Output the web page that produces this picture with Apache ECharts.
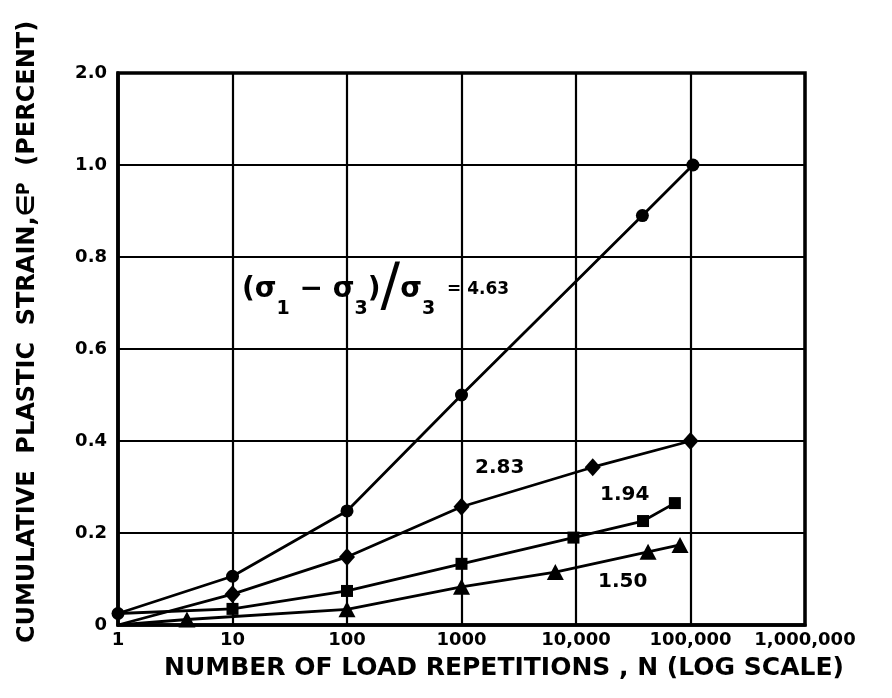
<!DOCTYPE html>
<html><head><meta charset="utf-8">
<script src="https://cdn.jsdelivr.net/npm/echarts@6/dist/echarts.min.js"></script>
<style>html,body{margin:0;padding:0;background:#fff}#c{width:892px;height:698px}</style>
</head><body><div id="c"></div>
<script>
// ---- data ----
const xTickLabels = ['1', '10', '100', '1000', '10,000', '100,000', '1,000,000'];
const yTickLabels = ['0', '0.2', '0.4', '0.6', '0.8', '1.0', '2.0']; // top tick is a broken-axis "2.0"

const nCircle = [1, 10, 100, 1000, 38000, 105000];
const eCircle = [0.025, 0.106, 0.248, 0.50, 0.89, 1.0];

const nDiamond = [1, 10, 100, 1000, 14000, 100000];
const eDiamond = [0, 0.067, 0.148, 0.257, 0.343, 0.40];

const nSquare = [1, 10, 100, 1000, 9500, 38500, 73000];
const eSquare = [0.025, 0.035, 0.074, 0.133, 0.19, 0.226, 0.265];

const nTriangle = [1, 4, 100, 1000, 6600, 42600, 81000];
const eTriangle = [0, 0.012, 0.034, 0.083, 0.115, 0.159, 0.174];

const seriesNames = ['4.63', '2.83', '1.94', '1.50'];

function pts(xs, ys, hideFirst) {
  return xs.map((x, i) => (i === 0 && hideFirst) ? { value: [x, ys[i]], symbol: 'none' } : [x, ys[i]]);
}

const FONT = 'DejaVu Sans';
const chart = echarts.init(document.getElementById('c'), null, { renderer: 'canvas' });
const lineStyle = { color: '#000', width: 2.8 };
const itemStyle = { color: '#000' };

chart.setOption({
  animation: false,
  backgroundColor: '#fff',
  grid: { left: 118, right: 87, top: 73, bottom: 73, show: true, borderColor: '#000', borderWidth: 3.5, backgroundColor: 'transparent' },
  xAxis: {
    type: 'log', logBase: 10, min: 1, max: 1000000,
    axisLine: { show: true, lineStyle: { color: '#000', width: 3.5 } },
    axisTick: { show: false },
    splitLine: { show: true, lineStyle: { color: '#000', width: 2.2 } },
    minorSplitLine: { show: false },
    axisLabel: {
      color: '#000', fontFamily: FONT, fontWeight: 'bold', fontSize: 18, margin: 6,
      formatter: v => xTickLabels[Math.round(Math.log10(v))]
    }
  },
  yAxis: {
    type: 'value', min: 0, max: 1.2, interval: 0.2,
    axisLine: { show: true, lineStyle: { color: '#000', width: 3.5 } },
    axisTick: { show: false },
    splitLine: { show: true, lineStyle: { color: '#000', width: 2.2 } },
    axisLabel: {
      color: '#000', fontFamily: FONT, fontWeight: 'bold', fontSize: 18, margin: 11,
      formatter: v => yTickLabels[Math.round(v / 0.2)]
    }
  },
  series: [
    { name: seriesNames[0], type: 'line', data: pts(nCircle, eCircle, false), symbol: 'circle', symbolSize: 13, lineStyle, itemStyle, z: 5 },
    { name: seriesNames[1], type: 'line', data: pts(nDiamond, eDiamond, true), symbol: 'diamond', symbolSize: [16, 18], lineStyle, itemStyle, z: 5 },
    { name: seriesNames[2], type: 'line', data: pts(nSquare, eSquare, true), symbol: 'rect', symbolSize: 12, lineStyle, itemStyle, z: 5 },
    { name: seriesNames[3], type: 'line', data: pts(nTriangle, eTriangle, true), symbol: 'triangle', symbolSize: [17, 16], lineStyle, itemStyle, z: 5 }
  ],
  graphic: [
    { type: 'text', x: 504, y: 668, style: { text: 'NUMBER OF LOAD REPETITIONS , N (LOG SCALE)', font: 'bold 25px "DejaVu Sans"', fill: '#000', textAlign: 'center', textVerticalAlign: 'middle' } },
    { type: 'text', x: 28, y: 332, rotation: Math.PI / 2,
      style: { text: '{t|CUMULATIVE  PLASTIC  STRAIN,∈}{p|P}{t|  (PERCENT)}', fill: '#000', textAlign: 'center', textVerticalAlign: 'middle',
        rich: { t: { fontFamily: FONT, fontWeight: 'bold', fontSize: 24, fill: '#000', verticalAlign: 'bottom' },
                p: { fontFamily: FONT, fontWeight: 'bold', fontSize: 17, fill: '#000', verticalAlign: 'top' } } } },
    { type: 'text', x: 242, y: 290,
      style: { text: '{a|(σ}{s|1}{a| − σ}{s|3}{a|)}{sl|/}{a|σ}{s|3}{e|  = 4.63}', fill: '#000', textVerticalAlign: 'middle',
        rich: { a: { fontFamily: FONT, fontWeight: 'bold', fontSize: 28, fill: '#000', verticalAlign: 'middle' },
                s: { fontFamily: FONT, fontWeight: 'bold', fontSize: 19, fill: '#000', verticalAlign: 'bottom' },
                sl: { fontFamily: FONT, fontWeight: 'normal', fontSize: 58, fill: '#000', verticalAlign: 'middle' },
                e: { fontFamily: FONT, fontWeight: 'bold', fontSize: 17, fill: '#000', verticalAlign: 'middle' } } } },
    { type: 'text', x: 475, y: 468, style: { text: '2.83', font: 'bold 20px "DejaVu Sans"', fill: '#000', textVerticalAlign: 'middle' } },
    { type: 'text', x: 600, y: 495, style: { text: '1.94', font: 'bold 20px "DejaVu Sans"', fill: '#000', textVerticalAlign: 'middle' } },
    { type: 'text', x: 598, y: 582, style: { text: '1.50', font: 'bold 20px "DejaVu Sans"', fill: '#000', textVerticalAlign: 'middle' } }
  ]
});
</script></body></html>
